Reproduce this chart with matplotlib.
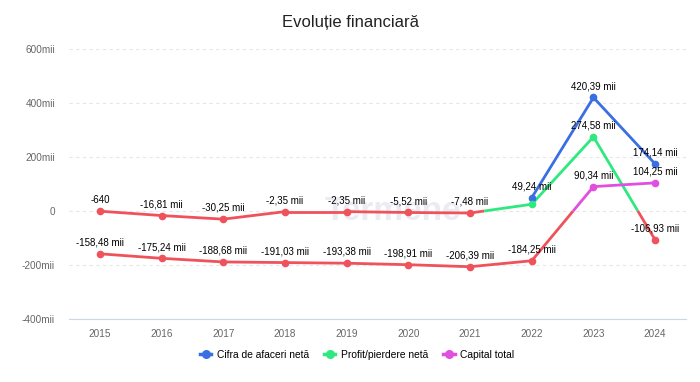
import numpy as np
import matplotlib.pyplot as plt

plt.rcParams['font.family'] = ['Liberation Sans', 'DejaVu Sans']

years = ["2015", "2016", "2017", "2018", "2019", "2020", "2021", "2022", "2023", "2024"]

# values in lei (None = no data)
cifra = [None, None, None, None, None, None, None, 49240, 420390, 174140]
profit = [-640, -16810, -30250, -2350, -2350, -5520, -7480, 25000, 274580, -106930]
capital = [-158480, -175240, -188680, -191030, -193380, -198910, -206390, -184250, 90340, 104250]

series_names = ["Cifra de afaceri netă", "Profit/pierdere netă", "Capital total"]
series_colors = ["#3a6fe3", "#2fe87f", "#e04fdf"]
neg_color = "#f0525c"
hidden_labels = {("Profit/pierdere netă", 7)}

yticks = [-400000, -200000, 0, 200000, 400000, 600000]
ytick_labels = ["-400mii", "-200mii", "0", "200mii", "400mii", "600mii"]


def fmt(v):
    if abs(v) >= 1000:
        return f"{v / 1000:.2f}".replace(".", ",") + " mii"
    return str(int(v))


def zone_plot(ax, xs, ys, color):
    # split segments at 0, negative part in red (like highcharts zones)
    for i in range(len(xs) - 1):
        x0, y0, x1, y1 = xs[i], ys[i], xs[i + 1], ys[i + 1]
        if (y0 < 0) == (y1 < 0):
            ax.plot([x0, x1], [y0, y1], color=neg_color if y0 < 0 else color,
                    lw=2.0, solid_capstyle="round", zorder=3)
        else:
            xc = x0 + (x1 - x0) * (0 - y0) / (y1 - y0)
            ax.plot([x0, xc], [y0, 0], color=neg_color if y0 < 0 else color,
                    lw=2.0, solid_capstyle="butt", zorder=3)
            ax.plot([xc, x1], [0, y1], color=neg_color if y1 < 0 else color,
                    lw=2.0, solid_capstyle="butt", zorder=3)
    for x, y in zip(xs, ys):
        ax.plot(x, y, "o", ms=5.5, color=neg_color if y < 0 else color,
                mec="none", zorder=4)


fig = plt.figure(figsize=(7, 3.82), dpi=100)
ax = fig.add_axes([69 / 700, 1 - 319 / 382, (686 - 69) / 700, (319 - 49) / 382])

x = np.arange(len(years))
ax.set_xlim(-0.5, len(years) - 0.5)
ax.set_ylim(-400000, 600000)

for name, vals, col in zip(series_names, [cifra, profit, capital], series_colors):
    xs = [i for i, v in enumerate(vals) if v is not None]
    ys = [v for v in vals if v is not None]
    zone_plot(ax, xs, ys, col)
    for xi, yi in zip(xs, ys):
        if (name, xi) in hidden_labels:
            continue
        ax.annotate(fmt(yi), (xi, yi), xytext=(0, 4.5), textcoords="offset points",
                    ha="center", va="bottom", fontsize=7, color="#000000", zorder=5)

# faint watermark
ax.text(4.75, -2000, "Termene", fontsize=24, color="#ebebf4",
        ha="center", va="center", fontweight="bold", zorder=1)

ax.set_yticks(yticks)
ax.set_yticklabels(ytick_labels)
ax.set_xticks(x)
ax.set_xticklabels(years)
ax.tick_params(axis="both", length=0, labelsize=7.2, labelcolor="#666666")
ax.tick_params(axis="y", pad=10)
ax.tick_params(axis="x", pad=7)
ax.grid(axis="y", color="#e6e6e6", lw=0.8, ls=(0, (3, 3)), zorder=0)
for s in ["top", "right", "left"]:
    ax.spines[s].set_visible(False)
ax.spines["bottom"].set_color("#ccd6eb")
ax.spines["bottom"].set_linewidth(0.8)

fig.text(0.5, 1 - 22 / 382, "Evoluție financiară", ha="center", va="center",
         fontsize=12, color="#222222")

handles = [plt.Line2D([], [], color=c, lw=2.5, marker="o", ms=5.5) for c in series_colors]
fig.legend(handles, series_names, loc="center", bbox_to_anchor=(0.51, 1 - 355 / 382),
           ncol=3, frameon=False, fontsize=7.4, handlelength=1.1, handletextpad=0.5,
           columnspacing=1.5)

fig.savefig("out.png", dpi=100)
